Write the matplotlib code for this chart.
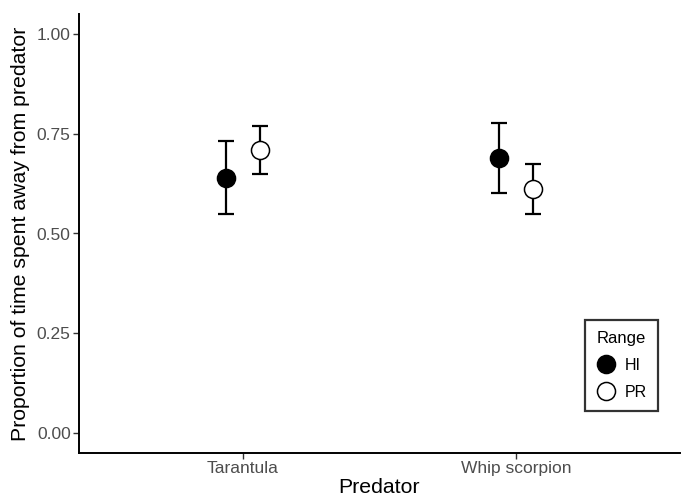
import matplotlib
matplotlib.use("Agg")
import matplotlib.pyplot as plt
from matplotlib.lines import Line2D
import numpy as np

plt.rcParams['font.family'] = ['Liberation Sans', 'DejaVu Sans']

predators = ["Tarantula", "Whip scorpion"]
ranges = ["HI", "PR"]
means = {"HI": [0.640, 0.688], "PR": [0.710, 0.612]}
lower = {"HI": [0.548, 0.602], "PR": [0.650, 0.550]}
upper = {"HI": [0.733, 0.778], "PR": [0.770, 0.673]}
yticks = [0.00, 0.25, 0.50, 0.75, 1.00]

fig = plt.figure(figsize=(6.88, 4.98), dpi=100)
ax = fig.add_axes([79/688, (498-453)/498, (680-79)/688, (453-14)/498])

x = np.arange(1, len(predators) + 1)
dodge = {"HI": -0.0625, "PR": 0.0625}
face = {"HI": "black", "PR": "white"}
for r in ranges:
    m = np.array(means[r]); lo = np.array(lower[r]); hi = np.array(upper[r])
    ax.errorbar(x + dodge[r], m, yerr=[m - lo, hi - m], fmt='none',
                ecolor='black', elinewidth=1.6, capsize=5.5, capthick=1.6, zorder=2)
    ax.plot(x + dodge[r], m, 'o', ms=13, mfc=face[r], mec='black', mew=1.1, zorder=3,
            linestyle='none')

ax.set_xlim(0.4, 2.6)
ax.set_ylim(-0.05, 1.05)
ax.set_xticks(x)
ax.set_xticklabels(predators)
ax.set_yticks(yticks)
ax.set_yticklabels([f"{t:.2f}" for t in yticks])
ax.tick_params(axis='both', colors='#333333', labelcolor='#4d4d4d', labelsize=12.5,
               length=4, width=1)
ax.tick_params(axis='x', pad=2)
ax.tick_params(axis='y', pad=2)
for s in ['top', 'right']:
    ax.spines[s].set_visible(False)
for s in ['left', 'bottom']:
    ax.spines[s].set_linewidth(1.4)
    ax.spines[s].set_color('black')

ax.set_xlabel("Predator", fontsize=15.3, labelpad=1)
ax.set_ylabel("Proportion of time spent away from predator", fontsize=15.3, labelpad=5)

handles = [Line2D([], [], marker='o', linestyle='none', ms=13, mfc=face[r], mec='black', mew=1.1)
           for r in ranges]
leg = ax.legend(handles, ranges, title="Range", loc='lower right',
                bbox_to_anchor=(658/688, (498-411)/498), bbox_transform=fig.transFigure,
                frameon=True, fancybox=False, edgecolor='black', fontsize=11.5,
                title_fontsize=12, handletextpad=0.5, borderpad=0.7, labelspacing=0.75,
                handlelength=1.3, borderaxespad=0)
leg.get_frame().set_linewidth(1.6)
for t in leg.get_texts():
    t.set_color('black')

fig.savefig("out.png", dpi=100)
